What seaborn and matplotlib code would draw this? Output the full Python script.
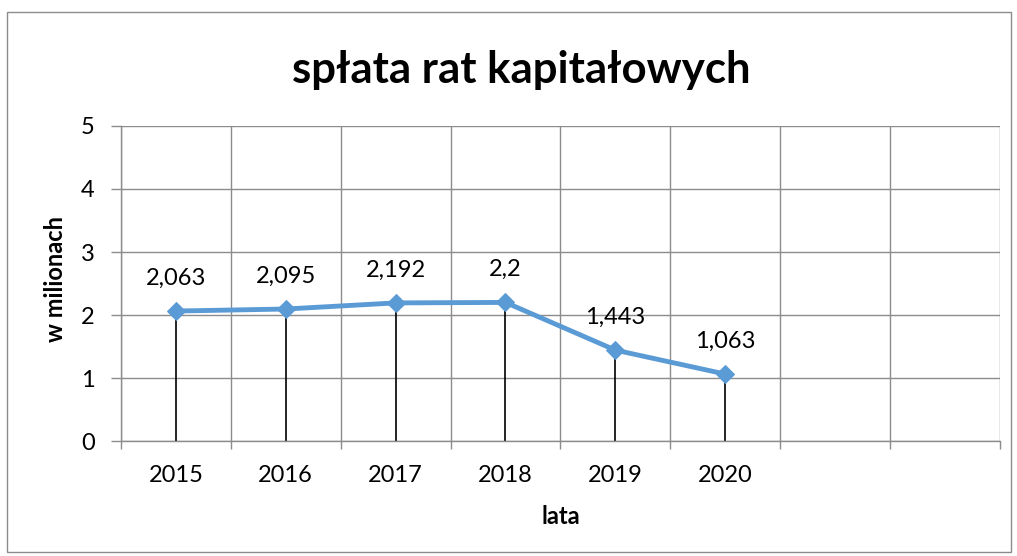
import matplotlib
matplotlib.use("Agg")
import matplotlib.pyplot as plt
import seaborn as sns
import numpy as np
import pandas as pd
from matplotlib.patches import Rectangle

years = ["2015", "2016", "2017", "2018", "2019", "2020"]
values = [2.063, 2.095, 2.192, 2.2, 1.443, 1.063]
labels = ["2,063", "2,095", "2,192", "2,2", "1,443", "1,063"]
n_slots = 8
y_ticks = [0, 1, 2, 3, 4, 5]

sns.set_theme(style="white")
plt.rcParams['font.family'] = ['Lato', 'DejaVu Sans']
plt.rcParams['text.color'] = 'black'
plt.rcParams['axes.labelcolor'] = 'black'
plt.rcParams['xtick.labelcolor'] = 'black'
plt.rcParams['ytick.labelcolor'] = 'black'

fig = plt.figure(figsize=(10.17, 5.56), dpi=100)
ax = fig.add_axes([0.119, 0.2068, 0.864, 0.5666])

df = pd.DataFrame({"pos": np.arange(len(years)), "val": values})
grid_c = "#8c8c8c"

# gridlines
for y in y_ticks:
    ax.axhline(y, color=grid_c, lw=1.0, zorder=0)
for b in np.arange(n_slots + 1) - 0.5:
    ax.axvline(b, color=grid_c, lw=1.0, zorder=0)

# drop lines
ax.vlines(df["pos"], 0, df["val"], color="black", lw=1.2, zorder=1)

sns.lineplot(data=df, x="pos", y="val", ax=ax, color="#5B9BD5", lw=3.5,
             marker="D", markersize=9, markeredgecolor="#5B9BD5", zorder=3)

for p, v, t in zip(df["pos"], values, labels):
    ax.annotate(t, (p, v), xytext=(0, 19), textcoords="offset points",
                ha="center", va="baseline", fontsize=17, color="black")

ax.set_xlim(-0.5, n_slots - 0.5)
ax.set_ylim(0, 5)
ax.set_yticks(y_ticks)
ax.set_yticklabels([str(y) for y in y_ticks], fontsize=17)
ax.set_xticks(np.arange(len(years)))
ax.set_xticklabels(years, fontsize=17)
ax.set_xticks(np.arange(n_slots + 1) - 0.5, minor=True)
ax.tick_params(axis="x", which="major", length=0, pad=17)
ax.tick_params(axis="x", which="minor", length=6, color=grid_c, width=1, direction="out", bottom=True)
ax.tick_params(axis="y", length=7, color=grid_c, width=1, direction="out", left=True, pad=12)

for s in ["top", "right"]:
    ax.spines[s].set_visible(False)
for s in ["left", "bottom"]:
    ax.spines[s].set_color(grid_c)
    ax.spines[s].set_linewidth(1.0)

ax.set_xlabel("lata", fontsize=17, fontweight="bold", labelpad=14)
ax.set_ylabel("w milionach", fontsize=17, fontweight="bold")
ax.yaxis.set_label_coords(-0.0614, 0.515)

fig.text(0.513, 0.875, "spłata rat kapitałowych", ha="center", va="center",
         fontsize=31.5, fontweight="bold", color="black")

fig.patches.append(Rectangle((0.007, 0.008), 0.987, 0.97, transform=fig.transFigure,
                             fill=False, edgecolor="#8c8c8c", lw=1.0))

fig.savefig("out.png", dpi=100)
